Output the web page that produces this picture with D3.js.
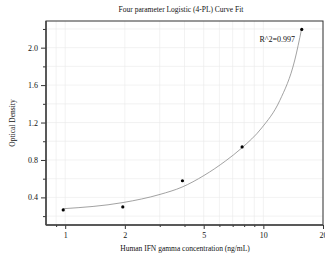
<!DOCTYPE html>
<html>
<head>
<meta charset="utf-8">
<script src="https://cdn.jsdelivr.net/npm/d3@7"></script>
<style>
body { margin: 0; background: #fff; }
</style>
</head>
<body>
<div id="chart"></div>
<script>
var width = 325;
var height = 264;
var plotLeft = 46;
var plotRight = 323;
var plotTop = 21;
var plotBottom = 225;
var font = "'Liberation Serif', 'Times New Roman', serif";

// standard points
var concentrations = [0.977, 1.953, 3.906, 7.8125, 15.625];
var odValues = [0.266, 0.298, 0.578, 0.939, 2.195];

// fitted curve
var curveConc = [0.976, 1.958, 3.01, 3.886, 5.015, 6.45, 7.79, 9.81, 12.11, 14.41, 15.58];
var curveOd = [0.279, 0.345, 0.432, 0.510, 0.634, 0.790, 0.929, 1.142, 1.436, 1.868, 2.196];

var xLabels = [1, 2, 5, 10, 20];
var xMinor = [0.9, 3, 4, 6, 7, 8, 9];
var yLabels = [0.4, 0.8, 1.2, 1.6, 2.0];
var yMinor = [0.2, 0.6, 1.0, 1.4, 1.8, 2.2];
var rSquared = "R^2=0.997";

var svg = d3.select("#chart").append("svg")
    .attr("width", width)
    .attr("height", height);

var xScale = d3.scaleLog()
    .domain([0.8, 20])
    .range([plotLeft, plotRight]);

var yScale = d3.scaleLinear()
    .domain([0.105, 2.285])
    .range([plotBottom, plotTop]);

// grid
var grid = svg.append("g");
grid.selectAll(".vg").data(xLabels.concat(xMinor)).enter().append("line")
    .attr("x1", function (d) { return xScale(d); })
    .attr("x2", function (d) { return xScale(d); })
    .attr("y1", plotTop).attr("y2", plotBottom)
    .style("stroke", "#e9e9e9").style("stroke-width", 0.6);
grid.selectAll(".hg").data(yLabels.concat(yMinor)).enter().append("line")
    .attr("y1", function (d) { return yScale(d); })
    .attr("y2", function (d) { return yScale(d); })
    .attr("x1", plotLeft).attr("x2", plotRight)
    .style("stroke", "#e9e9e9").style("stroke-width", 0.6);

// frame
svg.append("rect")
    .attr("x", plotLeft).attr("y", plotTop)
    .attr("width", plotRight - plotLeft).attr("height", plotBottom - plotTop)
    .style("fill", "none").style("stroke", "#333").style("stroke-width", 1);

function styleAxis(g) {
    g.select(".domain").remove();
    g.selectAll("line").style("stroke", "#333");
    g.selectAll("text")
        .style("font-size", "8px")
        .style("font-family", font)
        .style("fill", "#111");
}

// x axis
svg.append("g")
    .attr("transform", "translate(0," + plotBottom + ")")
    .call(d3.axisBottom(xScale).tickValues(xLabels).tickFormat(d3.format("d")).tickSize(4).tickPadding(3))
    .call(styleAxis);
svg.append("g")
    .attr("transform", "translate(0," + plotBottom + ")")
    .call(d3.axisBottom(xScale).tickValues(xMinor).tickSize(2).tickFormat(""))
    .call(styleAxis);

// y axis
svg.append("g")
    .attr("transform", "translate(" + plotLeft + ",0)")
    .call(d3.axisLeft(yScale).tickValues(yLabels).tickFormat(d3.format(".1f")).tickSize(5).tickPadding(3))
    .call(styleAxis);
svg.append("g")
    .attr("transform", "translate(" + plotLeft + ",0)")
    .call(d3.axisLeft(yScale).tickValues(yMinor).tickSize(3).tickFormat(""))
    .call(styleAxis);

// heavier axis lines
svg.append("line")
    .attr("x1", plotLeft).attr("x2", plotRight)
    .attr("y1", plotBottom).attr("y2", plotBottom)
    .style("stroke", "#444").style("stroke-width", 1.5);
svg.append("line")
    .attr("x1", plotLeft).attr("x2", plotLeft)
    .attr("y1", plotTop).attr("y2", plotBottom)
    .style("stroke", "#444").style("stroke-width", 1.5);

// curve
var curveData = curveConc.map(function (c, i) { return {x: c, y: curveOd[i]}; });
var line = d3.line()
    .x(function (d) { return xScale(d.x); })
    .y(function (d) { return yScale(d.y); })
    .curve(d3.curveMonotoneX);
svg.append("path")
    .datum(curveData)
    .attr("d", line)
    .style("fill", "none").style("stroke", "#8a8a8a").style("stroke-width", 0.8);

// points
var pointData = concentrations.map(function (c, i) { return {x: c, y: odValues[i]}; });
svg.selectAll(".pt").data(pointData).enter().append("circle")
    .attr("cx", function (d) { return xScale(d.x); })
    .attr("cy", function (d) { return yScale(d.y); })
    .attr("r", 1.6)
    .style("fill", "#000");

// texts
svg.append("text")
    .attr("x", 181).attr("y", 12)
    .attr("text-anchor", "middle")
    .style("font-family", font).style("font-size", "7.5px").style("fill", "#111")
    .text("Four parameter Logistic (4-PL) Curve Fit");

svg.append("text")
    .attr("x", 295).attr("y", 42)
    .attr("text-anchor", "end")
    .style("font-family", font).style("font-size", "8px").style("fill", "#111")
    .text(rSquared);

svg.append("text")
    .attr("transform", "translate(15," + ((plotTop + plotBottom) / 2) + ") rotate(-90)")
    .attr("text-anchor", "middle")
    .style("font-family", font).style("font-size", "7.5px").style("fill", "#111")
    .text("Optical Density");

svg.append("text")
    .attr("x", 185).attr("y", 251)
    .attr("text-anchor", "middle")
    .style("font-family", font).style("font-size", "7.5px").style("fill", "#111")
    .text("Human IFN gamma concentration (ng/mL)");
</script>
</body>
</html>
